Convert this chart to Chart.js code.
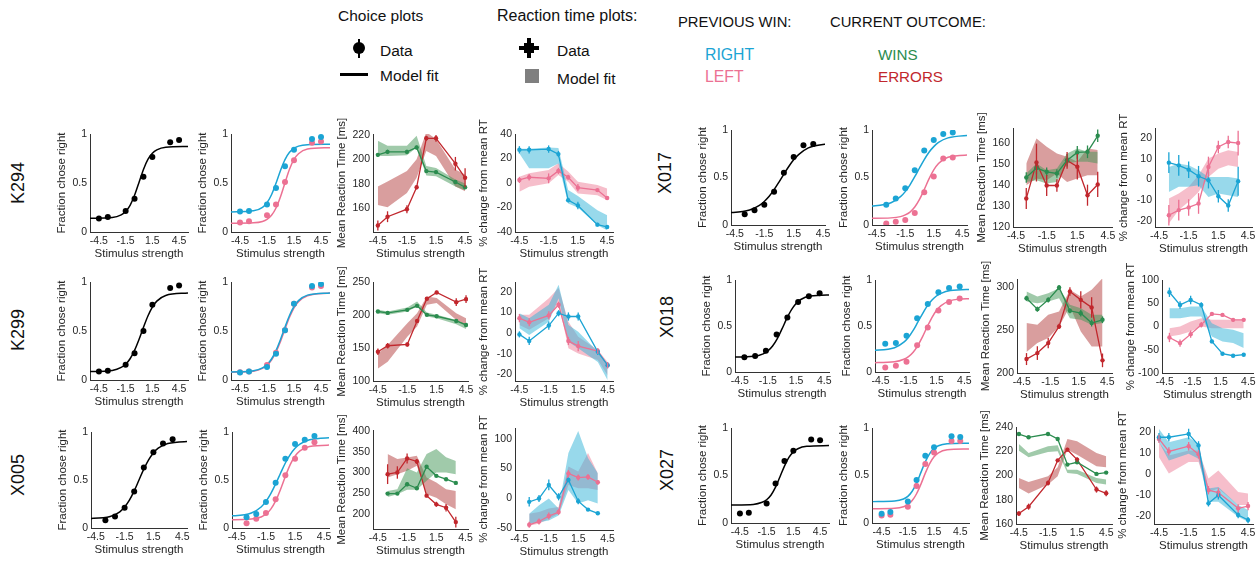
<!DOCTYPE html>
<html>
<head>
<meta charset="utf-8">
<script src="https://cdn.jsdelivr.net/npm/chart.js@4.4.1/dist/chart.umd.min.js"></script>
<style>
  html, body { margin:0; padding:0; background:#fff; }
  body { width:1258px; height:563px; position:relative; overflow:hidden; font-family:'Liberation Sans', Arial, sans-serif; color:#111; }
  .t { position:absolute; white-space:nowrap; line-height:1; }
  .s { position:absolute; }
  .rowlab { position:absolute; width:80px; height:18px; text-align:center; font-size:18px; line-height:18px; transform:rotate(-90deg); color:#111; }
  canvas { position:absolute; }
</style>
</head>
<body>
<!-- legend -->
<div class="t" style="left:338px;top:8px;font-size:15.5px">Choice plots</div>
<div class="s" style="left:358px;top:39px;width:2px;height:19px;background:#000"></div>
<div class="s" style="left:353px;top:42px;width:12px;height:12px;border-radius:50%;background:#000"></div>
<div class="t" style="left:380px;top:43px;font-size:15.5px">Data</div>
<div class="s" style="left:340px;top:73px;width:28px;height:3px;background:#000"></div>
<div class="t" style="left:380px;top:68px;font-size:15.5px">Model fit</div>

<div class="t" style="left:497px;top:8px;font-size:16px">Reaction time plots:</div>
<div class="s" style="left:519px;top:46px;width:20px;height:4px;background:#000"></div>
<div class="s" style="left:527px;top:38px;width:4px;height:20px;background:#000"></div>
<div class="s" style="left:524px;top:43px;width:10px;height:10px;background:#000"></div>
<div class="t" style="left:557px;top:43px;font-size:15.5px">Data</div>
<div class="s" style="left:525px;top:69px;width:14px;height:14px;background:#7f7f7f"></div>
<div class="t" style="left:557px;top:71px;font-size:15.5px">Model fit</div>

<div class="t" style="left:678px;top:15px;font-size:14.8px">PREVIOUS WIN:</div>
<div class="t" style="left:705px;top:47px;font-size:15.8px;color:#1ba4d4">RIGHT</div>
<div class="t" style="left:705px;top:69px;font-size:15.8px;color:#ec7193">LEFT</div>
<div class="t" style="left:830px;top:15px;font-size:14.8px">CURRENT OUTCOME:</div>
<div class="t" style="left:878px;top:47px;font-size:15.2px;color:#2b8c4f">WINS</div>
<div class="t" style="left:878px;top:69px;font-size:15.2px;color:#c1272d">ERRORS</div>

<!-- row labels -->
<div class="rowlab" style="left:-22px;top:174px">K294</div>
<div class="rowlab" style="left:-22px;top:321px">K299</div>
<div class="rowlab" style="left:-22px;top:466px">X005</div>
<div class="rowlab" style="left:625px;top:164px">X017</div>
<div class="rowlab" style="left:627px;top:308px">X018</div>
<div class="rowlab" style="left:627px;top:461px">X027</div>

<script>
// ---------- stimulus values ----------
const X_TICKS = [-4.5, -1.5, 1.5, 4.5];
const STIM_8 = [-4.5, -3.5, -1.5, -0.5, 0.5, 1.5, 3.5, 4.5];
const STIM_ODD = [-3.5, -2.5, -1.5, -0.5, 0.5, 1.5, 2.5, 3.5];
const STIM_X018 = [-4, -2.857, -1.714, -0.571, 0.571, 1.714, 2.857, 4];
const FIT_X = [-5.5, -3, -2, -1.5, -1, -0.5, 0, 0.5, 1, 1.5, 2, 3, 5.5];

// ---------- K294 ----------
const K294_choice = [.138, .152, .215, .34, .564, .765, .917, .938];
const K294_fit = [.140, .147, .174, .209, .272, .374, .506, .638, .740, .803, .838, .865, .872];
const K294_chR = [.21, .215, .28, .45, .67, .84, .948, .969];
const K294_chL = [.097, .11, .17, .28, .51, .733, .91, .924];
const K294_fitR = [.205, .216, .252, .299, .380, .497, .628, .739, .813, .854, .876, .891, .895];
const K294_fitL = [.090, .094, .108, .129, .170, .245, .360, .503, .641, .740, .799, .846, .860];
const K294_rtWin = [203.6, 206, 206, 209.6, 190.4, 189.6, 181.6, 177.3];
const K294_rtWinErr = [1.5, 1.8, 1.8, 1.5, 1.5, 1.5, 1.5, 1.5];
const K294_rtWinLo = [202.7, 202.7, 203.3, 209.6, 186.8, 186.3, 178, 174.8];
const K294_rtWinHi = [215, 211, 211, 219, 194.5, 193, 183.6, 180.3];
const K294_rtErr = [146.3, 153.4, 159.5, 177.3, 217, 217, 196.4, 185];
const K294_rtErrErr = [4, 4.4, 3.3, 1.6, 2, 2.7, 5.5, 7.7];
const K294_rtErrLo = [163, 161, 172.6, 185, 206.8, 202.7, 178, 174];
const K294_rtErrHi = [178, 182, 190.4, 200, 222, 216.4, 191.8, 187.7];
const K294_pctR = [27.1, 27.1, 27.7, 23.6, -14, -18.4, -34, -35.9];
const K294_pctRErr = [3, 3, 3, 2.5, 2, 3, 1.5, 1];
const K294_pctRLo = [24, 12, 12, 16, -16.7, -20, -34.5, -38.6];
const K294_pctRHi = [28, 28, 29, 28.5, -5.7, -10.7, -22.2, -26.3];
const K294_pctL = [2.5, 4.7, 3.8, 9.9, 4.7, -3.8, -5.8, -12.3];
const K294_pctLErr = [2.5, 2.7, 4, 2.5, 2, 3, 1, 1.5];
const K294_pctLLo = [-7.1, -3, -0.3, 6.6, 1.1, -8.5, -9.9, -14];
const K294_pctLHi = [5.2, 8, 10.7, 16.2, 9.3, 1.1, -1.6, -4.4];

// ---------- K299 ----------
const K299_choice = [.087, .094, .156, .274, .50, .767, .94, .965];
const K299_fit = [.086, .098, .128, .161, .217, .302, .413, .537, .653, .744, .805, .863, .888];
const K299_chR = [.076, .087, .132, .267, .507, .778, .958, .979];
const K299_chL = [.08, .087, .153, .278, .507, .778, .944, .958];
const K299_fitR = [.081, .094, .124, .157, .214, .300, .413, .540, .658, .750, .810, .866, .888];
const K299_fitL = [.080, .090, .118, .150, .203, .286, .394, .520, .640, .737, .800, .860, .888];
const K299_rtWin = [205.3, 203.2, 207.8, 213.9, 200.2, 198.1, 191, 184.9];
const K299_rtWinErr = [1.5, 1.5, 1.5, 1.5, 1, 1, 1, 1.5];
const K299_rtWinLo = [202.7, 200.2, 205.3, 212.9, 197.6, 195, 186, 178.8];
const K299_rtWinHi = [207.8, 205.3, 211.4, 220.5, 203.7, 200.2, 192.5, 186];
const K299_rtErr = [144.3, 153.4, 155.4, 191, 224.6, 234.2, 219.5, 224];
const K299_rtErrErr = [5, 4, 3, 2, 2, 2.5, 6, 6];
const K299_rtErrLo = [118.8, 129, 167.1, 182.4, 215.4, 218, 192.5, 182.4];
const K299_rtErrHi = [141.7, 154.4, 187.5, 202.7, 228, 225.6, 202.7, 195];
const K299_pctR = [-0.6, -3.8, 3.7, 9.7, 8.1, 8.1, -9.1, -15.6];
const K299_pctRErr = [1.5, 2, 2, 1.5, 2, 2, 1.5, 1.5];
const K299_pctRLo = [2.4, -0.9, 5.6, 17, -4.2, -7.4, -14, -22.9];
const K299_pctRHi = [9.7, 7.3, 13.8, 23.6, 4, 0.7, -9.1, -15.6];
const K299_pctL = [7.3, 5.3, 8.6, 13.8, -3.8, -6.3, -8.7, -15.6];
const K299_pctLErr = [2, 2, 2, 1.5, 2, 2.5, 1.5, 1.5];
const K299_pctLLo = [4, 1.6, 7.3, 14.6, -7.4, -9.9, -13.1, -20.5];
const K299_pctLHi = [8.9, 8.9, 17, 22, 5.6, -1.7, -8.2, -14];

// ---------- X005 ----------
const X005_choice = [.08, .12, .21, .38, .63, .79, .88, .925];
const X005_fit = [.097, .120, .169, .218, .290, .387, .500, .613, .710, .782, .831, .880, .903];
const X005_chR = [.111, .146, .271, .472, .722, .875, .92, .958];
const X005_chL = [.049, .097, .156, .299, .549, .722, .837, .892];
const X005_fitR = [.122, .156, .219, .277, .358, .459, .570, .677, .764, .830, .874, .919, .943];
const X005_fitL = [.085, .093, .115, .144, .197, .282, .402, .537, .660, .747, .803, .849, .865];
const X005_rtWin = [248.8, 248.8, 271.5, 261.8, 313.8, 291.9, 283.7, 274.8];
const X005_rtWinErr = [4, 3, 5, 4, 3, 3, 3, 3];
const X005_rtWinLo = [240.7, 247.2, 258, 258, 280, 300, 300, 296];
const X005_rtWinHi = [255.3, 259.3, 310, 300, 345, 357, 337, 328];
const X005_rtErr = [296, 300, 334, 326.8, 243.9, 222.8, 214.6, 179.7];
const X005_rtErrErr = [24, 15, 12, 6, 4, 6, 9, 13];
const X005_rtErrLo = [287.8, 296, 304, 316.3, 247.2, 239, 222.8, 210.6];
const X005_rtErrHi = [344.7, 332.5, 336.6, 340.7, 287.8, 275.6, 259.3, 255.3];
const X005_pctR = [-5.8, -0.2, 22.5, 2.7, 31, -4.7, -18.8, -25];
const X005_pctRErr = [8, 6, 9, 6, 4, 5, 2, 2];
const X005_pctRLo = [-42.6, -39.8, -37, -28.5, 14, -8.7, -3, -8.7];
const X005_pctRHi = [-25.6, -11.5, 0, -17, 76, 113, 67.7, 42.3];
const X005_pctL = [-44.3, -38.7, -29.6, -22.8, 41.7, 34.9, 36, 27];
const X005_pctLErr = [5, 5, 6, 5, 6, 5, 5, 4];
const X005_pctLLo = [-45.4, -42.6, -34, -25.6, 22.5, 16.8, 16.8, 14];
const X005_pctLHi = [-25.6, -22.8, -17.1, -14.3, 53.6, 45.1, 76.2, 42.3];

// ---------- X017 ----------
const X017_choice = [.112, .154, .213, .35, .549, .717, .839, .853];
const X017_fit = [.125, .158, .206, .248, .302, .372, .452, .536, .616, .686, .741, .812, .863];
const X017_chR = [.213, .28, .388, .577, .783, .895, .958, .975];
const X017_chL = [.017, .035, .052, .126, .346, .51, .70, .71];
const X017_fitR = [.194, .234, .298, .351, .423, .508, .600, .689, .766, .825, .869, .917, .947];
const X017_fitL = [.070, .075, .088, .106, .136, .189, .269, .374, .485, .580, .648, .713, .739];
const X017_rtWin = [143.5, 148, 146.2, 145.4, 151.7, 155.4, 155.7, 163.3];
const X017_rtWinErr = [2.5, 3, 2, 2, 3, 3, 3, 3];
const X017_rtWinLo = [141.4, 142.2, 140.6, 141.4, 150.2, 151, 151, 150.2];
const X017_rtWinHi = [145.4, 150.2, 147, 147.8, 154.9, 157.3, 155.7, 155.7];
const X017_rtErr = [133.5, 150.6, 139.7, 139.7, 151.6, 148.6, 135.1, 140.2];
const X017_rtErrErr = [5, 9, 5, 3, 4, 6, 5, 6];
const X017_rtErrLo = [139.8, 143, 142.2, 145.4, 141.4, 143, 144.6, 144.6];
const X017_rtErrHi = [150.2, 162, 158.1, 154.9, 153.3, 151, 157.3, 156.5];
const X017_pctR = [8.2, 6.9, 4.8, 1.6, -0.3, -8.1, -12.6, -0.8];
const X017_pctRErr = [5, 5, 4, 5, 4, 3, 3, 7];
const X017_pctRLo = [-6, -3.5, -3.5, -2.7, -8.4, -6.8, -7.6, -8.4];
const X017_pctRHi = [6.1, 7.7, 6.9, 4.5, 1.3, 1.3, 1.3, 0.5];
const X017_pctL = [-17.3, -14.8, -13.5, -11.6, 6.1, 15.8, 18.2, 17.7];
const X017_pctLErr = [5, 5, 4, 5, 5, 3, 3, 6];
const X017_pctLLo = [-21.3, -14.8, -10.8, -6, 1.3, 5.3, 6.9, 6.1];
const X017_pctLHi = [-9.2, -6.8, -3.5, 2.1, 10.2, 12.6, 14.2, 13.4];

// ---------- X018 ----------
const X018_choice = [.159, .173, .231, .408, .592, .762, .823, .856];
const X018_fit = [.161, .170, .197, .229, .282, .363, .468, .580, .676, .745, .788, .825, .840];
const X018_chR = [.307, .314, .394, .585, .74, .866, .913, .93];
const X018_chL = [.05, .069, .112, .292, .484, .668, .762, .80];
const X018_fitR = [.232, .264, .324, .378, .452, .542, .633, .716, .780, .826, .855, .885, .899];
const X018_fitL = [.101, .111, .138, .167, .215, .287, .381, .489, .589, .668, .722, .776, .799];
const X018_rtWin = [287.5, 274.7, 285.6, 300, 272.8, 270, 258.4, 262.3];
const X018_rtWinErr = [3, 3, 3, 3, 3, 4, 4, 4];
const X018_rtWinLo = [283.7, 281.7, 283.7, 287.5, 264.2, 262.3, 256.4, 258.4];
const X018_rtWinHi = [295.3, 289.5, 293.4, 299.2, 279.8, 275.9, 268.1, 268.1];
const X018_rtErr = [216.3, 223.3, 235, 254.5, 295.3, 285.6, 276.7, 214.8];
const X018_rtErrErr = [7, 8, 6, 3, 5, 10, 12, 8];
const X018_rtErrLo = [224.5, 235, 240.9, 254.5, 277.8, 248.6, 231.1, 231.1];
const X018_rtErrHi = [258.4, 256.4, 268.1, 272, 297.3, 289.5, 297.3, 310.9];
const X018_pctR = [73.6, 46.4, 57.1, 46.4, -32, -58.6, -62.9, -60.7];
const X018_pctRErr = [10, 8, 9, 6, 4, 3, 3, 3];
const X018_pctRLo = [17.9, 17.9, 21.4, 21.4, -21.4, -32, -35.7, -46.4];
const X018_pctRHi = [39.3, 39.3, 42.9, 42.9, 7.1, -3.6, -7.1, -14.3];
const X018_pctL = [-23.6, -35.7, -16.4, 3.6, 27.1, 25, 14.3, 14.3];
const X018_pctLErr = [10, 8, 8, 6, 4, 3, 4, 4];
const X018_pctLLo = [-21.4, -17.9, -10.7, 0, -3.6, -3.6, -3.6, -3.6];
const X018_pctLHi = [-3.6, 0, 10.7, 17.9, 14.3, 14.3, 14.3, 14.3];

// ---------- X027 ----------
const X027_choice = [.101, .108, .206, .415, .652, .76, .878, .871];
const X027_fit = [.190, .196, .218, .245, .295, .377, .487, .599, .690, .749, .782, .807, .815];
const X027_chR = [.098, .115, .226, .453, .707, .798, .913, .906];
const X027_chL = [.08, .087, .171, .39, .62, .742, .864, .864];
const X027_fitR = [.225, .231, .252, .280, .334, .420, .533, .645, .731, .785, .813, .834, .840];
const X027_fitL = [.150, .155, .171, .193, .236, .308, .409, .525, .626, .697, .738, .770, .780];
const X027_rtWin = [234.2, 231.5, 234.2, 230.1, 209, 210.9, 201.3, 202.4];
const X027_rtWinErr = [1, 1, 1, 1, 1, 1, 1, 1];
const X027_rtWinLo = [220.5, 215, 219.4, 219.9, 202.1, 201.3, 193.8, 192.5];
const X027_rtWinHi = [226, 218.6, 224.1, 224.9, 204.8, 204.8, 198, 196.6];
const X027_rtErr = [168.6, 174.3, 193.8, 212.5, 221.3, 213.1, 188.4, 185.3];
const X027_rtErrErr = [2, 2.5, 2, 1, 1.5, 2, 2.5, 2.5];
const X027_rtErrLo = [189.7, 185.1, 192.5, 199.3, 221.3, 217.2, 207.6, 206.8];
const X027_rtErrHi = [198, 194.7, 199.3, 206.8, 230.1, 228.2, 218.6, 215.8];
const X027_pctR = [17.6, 17.6, 19.2, 13.7, -14.1, -10.2, -19.7, -22.1];
const X027_pctRErr = [2, 2, 2.5, 2, 1.5, 2, 1.5, 1.5];
const X027_pctRLo = [15.2, 6.5, 9.7, 7.3, -13.3, -13.3, -20.5, -22.9];
const X027_pctRHi = [21.6, 15.2, 17.6, 14.4, -7, -6.2, -14.9, -17.3];
const X027_pctL = [16.8, 10.8, 13.3, 9.4, -7.8, -8.9, -16.5, -15.4];
const X027_pctLErr = [2, 2, 2, 2, 2, 2, 2, 2];
const X027_pctLLo = [8.1, 0.2, 5.7, 5.7, -8.6, -7, -14.9, -14.9];
const X027_pctLHi = [15.2, 8.9, 11.3, 11.3, -2.2, 1.7, -8.6, -9.4];

// ---------- styles ----------
const FONT = "'Liberation Sans', Arial, sans-serif";
const TXT = '#262626', AX = '#333';
const BLUE = '#1ba4d4', PINK = '#ec7193', GREEN = '#2b8c4f', RED = '#c1272d';
const GREEN_BAND = 'rgba(65,150,85,0.5)', RED_BAND = 'rgba(170,40,40,0.45)';
const BLUE_BAND = 'rgba(50,180,215,0.5)', PINK_BAND = 'rgba(235,110,140,0.45)';
const NONE = 'rgba(0,0,0,0)';

const pts = (xs, ys) => xs.map((x, i) => ({ x: x, y: ys[i] }));

// vertical error bars on data points
const errorBars = {
  id: 'errorBars',
  afterDatasetsDraw(chart) {
    const ctx = chart.ctx, ys = chart.scales.y, a = chart.chartArea;
    ctx.save();
    ctx.beginPath();
    ctx.rect(a.left, a.top, a.right - a.left, a.bottom - a.top);
    ctx.clip();
    chart.data.datasets.forEach((ds, i) => {
      if (!ds.errs) return;
      const meta = chart.getDatasetMeta(i);
      ctx.strokeStyle = ds.borderColor;
      ctx.lineWidth = 1.3;
      meta.data.forEach((p, j) => {
        const v = ds.data[j].y, e = ds.errs[j];
        ctx.beginPath();
        ctx.moveTo(p.x, ys.getPixelForValue(v - e));
        ctx.lineTo(p.x, ys.getPixelForValue(v + e));
        ctx.stroke();
      });
    });
    ctx.restore();
  }
};

function makeChart(box, xr, yr, yt, yTitle, tPad, datasets) {
  const padL = 44, padT = 32, padR = 12, padB = 30;
  const c = document.createElement('canvas');
  c.width = box[2] + padL + padR;
  c.height = box[3] + padT + padB;
  c.style.left = (box[0] - padL) + 'px';
  c.style.top = (box[1] - padT) + 'px';
  document.body.appendChild(c);
  new Chart(c, {
    type: 'line',
    data: { datasets: datasets },
    options: {
      responsive: false, animation: false, devicePixelRatio: 1,
      layout: { padding: { top: padT, right: padR, left: 0, bottom: 0 } },
      plugins: { legend: { display: false }, tooltip: { enabled: false } },
      scales: {
        x: {
          type: 'linear', min: xr[0], max: xr[1],
          afterBuildTicks: s => { s.ticks = X_TICKS.map(v => ({ value: v })); },
          afterFit: s => { s.height = padB; },
          grid: { display: false, drawTicks: false }, border: { color: AX, width: 1 },
          ticks: { font: { family: FONT, size: 10.5 }, color: TXT, padding: 3, maxRotation: 0, autoSkip: false, callback: v => String(v) },
          title: { display: true, text: 'Stimulus strength', font: { family: FONT, size: 11.5 }, color: TXT, padding: { top: 0, bottom: 1 } }
        },
        y: {
          type: 'linear', min: yr[0], max: yr[1],
          afterBuildTicks: s => { s.ticks = yt.map(v => ({ value: v })); },
          afterFit: s => { s.width = padL; },
          grid: { display: false, drawTicks: false }, border: { color: AX, width: 1 },
          ticks: { font: { family: FONT, size: 10.5 }, color: TXT, padding: 3, autoSkip: false, callback: v => String(v) },
          title: { display: true, text: yTitle, font: { family: FONT, size: 11.5 }, color: TXT, padding: { top: tPad, bottom: 0 } }
        }
      }
    },
    plugins: [errorBars]
  });
}

function dots(xs, ys, col) {
  return { data: pts(xs, ys), showLine: false, pointRadius: 3, pointBackgroundColor: col, pointBorderWidth: 0, borderColor: col, order: 0 };
}
function curve(ys, col) {
  return { data: pts(FIT_X, ys), borderColor: col, borderWidth: 1.5, pointRadius: 0, cubicInterpolationMode: 'monotone', order: 1 };
}

function choicePanel(box, xr, xs, ys, fit) {
  makeChart(box, xr, [0, 1], [0, 0.5, 1], 'Fraction chose right', 9,
    [dots(xs, ys, '#000'), curve(fit, '#000')]);
}
function choiceSplit(box, xr, xs, r, l, fr, fl) {
  makeChart(box, xr, [0, 1], [0, 0.5, 1], 'Fraction chose right', 9,
    [dots(xs, r, BLUE), dots(xs, l, PINK), curve(fr, BLUE), curve(fl, PINK)]);
}
// series: [values, errors, bandLow, bandHigh, lineColour, bandColour]
function rtPanel(box, xr, yr, yt, title, xs, series) {
  const ds = [];
  series.forEach(s => ds.push({ data: pts(xs, s[0]), errs: s[1], borderColor: s[4], backgroundColor: s[4],
    pointBackgroundColor: s[4], pointBorderWidth: 0, pointRadius: 2.2, borderWidth: 1.3, order: 0 }));
  series.forEach(s => {
    ds.push({ data: pts(xs, s[2]), borderColor: NONE, borderWidth: 0, pointRadius: 0, fill: false, order: 3 });
    ds.push({ data: pts(xs, s[3]), borderColor: NONE, borderWidth: 0, pointRadius: 0, fill: '-1', backgroundColor: s[5], order: 3 });
  });
  makeChart(box, xr, yr, yt, title, 6, ds);
}
const RT_T = 'Mean Reaction Time [ms]', PCT_T = '% change from mean RT';

// ---------- K294 ----------
choicePanel([90, 134, 98, 98], [-5.5, 5.5], STIM_8, K294_choice, K294_fit);
choiceSplit([231, 134, 99, 98], [-5.5, 5.5], STIM_8, K294_chR, K294_chL, K294_fitR, K294_fitL);
rtPanel([373, 134, 95, 98], [-5, 4.8], [141, 220.5], [160, 180, 200, 220], RT_T, STIM_8, [
  [K294_rtWin, K294_rtWinErr, K294_rtWinLo, K294_rtWinHi, GREEN, GREEN_BAND],
  [K294_rtErr, K294_rtErrErr, K294_rtErrLo, K294_rtErrHi, RED, RED_BAND]]);
rtPanel([515, 134, 98, 98], [-4.95, 5.1], [-40, 40], [-40, -20, 0, 20, 40], PCT_T, STIM_8, [
  [K294_pctR, K294_pctRErr, K294_pctRLo, K294_pctRHi, BLUE, BLUE_BAND],
  [K294_pctL, K294_pctLErr, K294_pctLLo, K294_pctLHi, PINK, PINK_BAND]]);

// ---------- K299 ----------
choicePanel([90, 282, 98, 98], [-5.5, 5.5], STIM_8, K299_choice, K299_fit);
choiceSplit([231, 282, 99, 98], [-5.5, 5.5], STIM_8, K299_chR, K299_chL, K299_fitR, K299_fitL);
rtPanel([373, 282, 95, 99], [-5, 4.7], [100, 250], [100, 150, 200, 250], RT_T, STIM_8, [
  [K299_rtWin, K299_rtWinErr, K299_rtWinLo, K299_rtWinHi, GREEN, GREEN_BAND],
  [K299_rtErr, K299_rtErrErr, K299_rtErrLo, K299_rtErrHi, RED, RED_BAND]]);
rtPanel([515, 282, 98, 99], [-4.95, 5.05], [-23.3, 24.9], [-20, -10, 0, 10, 20], PCT_T, STIM_8, [
  [K299_pctR, K299_pctRErr, K299_pctRLo, K299_pctRHi, BLUE, BLUE_BAND],
  [K299_pctL, K299_pctLErr, K299_pctLLo, K299_pctLHi, PINK, PINK_BAND]]);

// ---------- X005 ----------
choicePanel([91, 432, 96, 96], [-5, 5], STIM_ODD, X005_choice, X005_fit);
choiceSplit([232, 432, 97, 96], [-5, 5], STIM_ODD, X005_chR, X005_chL, X005_fitR, X005_fitL);
rtPanel([373, 430, 95, 99], [-5, 4.75], [163, 403], [200, 250, 300, 350, 400], RT_T, STIM_ODD, [
  [X005_rtWin, X005_rtWinErr, X005_rtWinLo, X005_rtWinHi, GREEN, GREEN_BAND],
  [X005_rtErr, X005_rtErrErr, X005_rtErrLo, X005_rtErrHi, RED, RED_BAND]]);
rtPanel([515, 428, 98, 102], [-4.95, 5.05], [-53, 118], [-50, 0, 50, 100], PCT_T, STIM_ODD, [
  [X005_pctR, X005_pctRErr, X005_pctRLo, X005_pctRHi, BLUE, BLUE_BAND],
  [X005_pctL, X005_pctLErr, X005_pctLLo, X005_pctLHi, PINK, PINK_BAND]]);

// ---------- X017 ----------
choicePanel([731, 130, 94, 95], [-4.9, 4.7], STIM_ODD, X017_choice, X017_fit);
choiceSplit([872, 130, 95, 95], [-5, 5], STIM_ODD, X017_chR, X017_chL, X017_fitR, X017_fitL);
rtPanel([1013, 128, 99, 99], [-4.8, 4.9], [120, 167], [120, 130, 140, 150, 160], RT_T, STIM_ODD, [
  [X017_rtWin, X017_rtWinErr, X017_rtWinLo, X017_rtWinHi, GREEN, GREEN_BAND],
  [X017_rtErr, X017_rtErrErr, X017_rtErrLo, X017_rtErrHi, RED, RED_BAND]]);
rtPanel([1155, 128, 97, 99], [-4.9, 4.9], [-23, 25], [-20, -10, 0, 10, 20], PCT_T, STIM_ODD, [
  [X017_pctR, X017_pctRErr, X017_pctRLo, X017_pctRHi, BLUE, BLUE_BAND],
  [X017_pctL, X017_pctLErr, X017_pctLLo, X017_pctLHi, PINK, PINK_BAND]]);

// ---------- X018 ----------
choicePanel([735, 280, 94, 92], [-5, 5], STIM_X018, X018_choice, X018_fit);
choiceSplit([875, 280, 94, 92], [-5.1, 5], STIM_X018, X018_chR, X018_chL, X018_fitR, X018_fitL);
rtPanel([1017, 279, 95, 94], [-5, 5], [200, 310], [200, 250, 300], RT_T, STIM_X018, [
  [X018_rtWin, X018_rtWinErr, X018_rtWinLo, X018_rtWinHi, GREEN, GREEN_BAND],
  [X018_rtErr, X018_rtErrErr, X018_rtErrLo, X018_rtErrHi, RED, RED_BAND]]);
rtPanel([1162, 280, 91, 93], [-4.8, 5], [-100, 100], [-100, -50, 0, 50, 100], PCT_T, STIM_X018, [
  [X018_pctR, X018_pctRErr, X018_pctRLo, X018_pctRHi, BLUE, BLUE_BAND],
  [X018_pctL, X018_pctLErr, X018_pctLLo, X018_pctLHi, PINK, PINK_BAND]]);

// ---------- X027 ----------
choicePanel([731, 428, 98, 95], [-5.5, 5.5], STIM_8, X027_choice, X027_fit);
choiceSplit([872, 428, 97, 95], [-5.6, 5.5], STIM_8, X027_chR, X027_chL, X027_fitR, X027_fitL);
rtPanel([1016, 427, 96, 97], [-4.8, 5.1], [160, 240], [160, 180, 200, 220, 240], RT_T, STIM_8, [
  [X027_rtWin, X027_rtWinErr, X027_rtWinLo, X027_rtWinHi, GREEN, GREEN_BAND],
  [X027_rtErr, X027_rtErrErr, X027_rtErrLo, X027_rtErrHi, RED, RED_BAND]]);
rtPanel([1154, 426, 99, 98], [-5, 5], [-24, 23], [-20, -10, 0, 10, 20], PCT_T, STIM_8, [
  [X027_pctR, X027_pctRErr, X027_pctRLo, X027_pctRHi, BLUE, BLUE_BAND],
  [X027_pctL, X027_pctLErr, X027_pctLLo, X027_pctLHi, PINK, PINK_BAND]]);
</script>
</body>
</html>
